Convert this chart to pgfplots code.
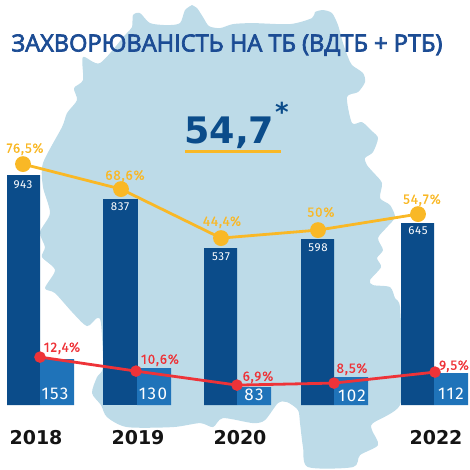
\documentclass[border=0pt]{standalone}
\usepackage{fontspec}
\setmainfont{Fira Sans}
\newfontfamily\lsfont[LetterSpace=6,FakeBold=0.4]{Fira Sans}
\newfontfamily\wsfont[LetterSpace=6]{Fira Sans}
\newfontfamily\wnfont[LetterSpace=8]{Fira Sans}
\newfontfamily\tfont[FakeBold=3]{Open Sans}
\newfontfamily\bfont{DejaVu Sans}
\usepackage{pgfplots}
\pgfplotsset{compat=1.18}
\definecolor{mapc}{HTML}{BDDBE8}
\definecolor{dk}{HTML}{0B4C8A}
\definecolor{md}{HTML}{1F73B9}
\definecolor{yl}{HTML}{F9B826}
\definecolor{rd}{HTML}{EE3338}
\definecolor{tt}{HTML}{1C4C94}
\newcommand{\lab}[4]{\node[text=#4,font=\lsfont\fontsize{13.5}{14}\selectfont,inner sep=0pt] at (axis cs:#1,{405-#2}) {#3};}
\newcommand{\wlab}[3]{\node[text=white,font=\wsfont\fontsize{11.5}{12}\selectfont,inner sep=0pt] at (axis cs:#1,{405-#2}) {#3};}
\newcommand{\blab}[3]{\node[text=white,font=\wnfont\fontsize{17}{18}\selectfont,inner sep=0pt] at (axis cs:#1,{405-#2}) {#3};}
\begin{document}
\begin{tikzpicture}
\begin{axis}[
  scale only axis, width=470pt, height=467pt,
  xmin=0, xmax=470, ymin=-62, ymax=405,
  clip=false,
  axis line style={draw=none},
  major tick length=0pt,
  ytick=\empty,
  xtick={36,138,240,332,436},
  xticklabels={2018,2019,2020,2021,2022},
  xticklabel style={yshift=40pt,font=\bfont\bfseries\fontsize{19}{20}\selectfont,text=black!92},
]
% map background (x, y in picture pixels)
\addplot[fill=mapc,draw=none,smooth,tension=0.45] table[x index=0,y expr=405-\thisrowno{1}] {
192 5
197 8
203 17
209 26
220 28
233 24
253 23
290 24
312 18
315 12
323 10
332 13
338 25
343 43
348 57
352 65
363 73
365 82
358 92
347 97
352 123
362 122
372 131
378 138
373 152
365 158
367 165
373 172
382 183
380 198
390 205
395 217
387 227
378 238
383 250
377 258
381 267
370 280
373 285
390 287
395 298
400 307
402 360
400 405
373 423
372 430
378 445
360 455
353 467
308 467
303 447
300 423
298 410
287 402
278 403
265 420
253 423
223 418
213 427
200 423
173 427
127 427
107 417
101 405
92 393
97 377
103 367
101 323
97 318
87 326
73 313
55 293
45 288
55 270
42 257
45 247
40 232
50 213
43 187
43 163
62 127
67 113
77 100
74 88
83 80
83 57
100 63
125 35
132 27
133 15
140 13
150 23
167 25
180 23
185 10
192 5
} -- cycle;
% large bars (heights in pixels as drawn)
\addplot[ybar,bar shift=0pt,bar width=33pt,fill=dk,draw=none] coordinates {(23.5,230) (220.5,157) (317.5,166) (417.5,182)};
\addplot[ybar,bar shift=0pt,bar width=35pt,fill=dk,draw=none] coordinates {(120.5,206)};
% small bars
\addplot[ybar,bar shift=0pt,bar width=34pt,fill=md,draw=none] coordinates {(57,46) (154,37) (254,18) (351,28) (451,32)};
% lines
\addplot[yl,line width=2.8pt,mark=*,mark size=6.5pt,mark options={fill=yl,draw=none}] coordinates {(23,241) (121,216) (221,167) (318,175) (418,191)};
\addplot[rd,line width=2.8pt,mark=*,mark size=4.3pt,mark options={fill=rd,draw=none}] coordinates {(40,48) (136,34) (237,20) (334,22) (435,33)};
% title etc.
\node[text=tt,font=\tfont\fontsize{23.6}{24}\selectfont,inner sep=0pt] at (axis cs:227,{405-45}) {ЗАХВОРЮВАНІСТЬ НА ТБ (ВДТБ + РТБ)};
\node[text=dk,font=\bfont\bfseries\fontsize{36.5}{40}\selectfont,inner sep=0pt,anchor=base west] at (axis cs:184,{405-143}) {54,7};
\node[text=dk,font=\bfont\bfseries\fontsize{26}{26}\selectfont,inner sep=0pt] at (axis cs:282,{405-112}) {*};
\draw[yl,line width=3pt] (axis cs:185,{405-151}) -- (axis cs:281,{405-151});
\lab{25}{149}{76,5\%}{yl}
\lab{125}{176}{68,6\%}{yl}
\lab{222}{222}{44,4\%}{yl}
\lab{321}{212}{50\%}{yl}
\lab{422}{200}{54,7\%}{yl}
\lab{62}{348}{12,4\%}{rd}
\lab{160}{360}{10,6\%}{rd}
\lab{258}{377}{6,9\%}{rd}
\lab{352}{369}{8,5\%}{rd}
\lab{454}{366}{9,5\%}{rd}
\wlab{23}{185}{943}
\wlab{120}{207}{837}
\wlab{221}{257}{537}
\wlab{318}{248}{598}
\wlab{418}{231}{645}
\blab{55}{394}{153}
\blab{153}{394}{130}
\blab{254}{395}{83}
\blab{352}{396}{102}
\blab{451}{394}{112}
\end{axis}
\end{tikzpicture}
\end{document}
